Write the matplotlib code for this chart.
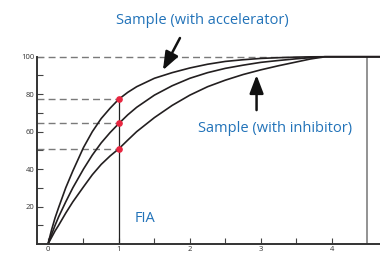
import matplotlib
matplotlib.use("Agg")
import matplotlib.pyplot as plt

# values
t = [0, 0.05, 0.1, 0.15, 0.25, 0.35, 0.5, 0.625, 0.75, 0.875, 1.0, 1.125, 1.25,
     1.5, 1.75, 2.0, 2.25, 2.5, 2.75, 3.0, 3.25, 3.5, 3.7, 3.9, 4.68]
accel = [0, 7.5, 14, 19.5, 30, 39, 51.5, 60, 67, 72.5, 77.4, 81, 84,
         88.5, 91.5, 94, 96, 97.5, 98.4, 99.1, 99.5, 99.8, 99.95, 100, 100]
control = [0, 5, 10, 14.5, 22.5, 30, 40, 47.5, 54, 59.5, 64.4, 69, 73,
           79.5, 84.5, 88.5, 91.5, 93.8, 95.5, 97, 98, 98.9, 99.5, 100, 100]
inhib = [0, 3.5, 7, 10, 16.5, 22.5, 30.5, 37, 42.5, 47, 50.9, 55.5, 60,
         67.5, 74, 79.5, 84, 87.5, 90.5, 93, 95.2, 97.2, 98.8, 100, 100]

fia_x = 1.0
fia_vals = [77.4, 64.4, 50.9]
end_x = 4.49

blue = "#2273b9"
red = "#e8253f"
dash_col = "#7a7a7a"

plt.rcParams["font.family"] = ["Open Sans", "DejaVu Sans"]

W, H = 380, 254
fig = plt.figure(figsize=(3.8, 2.54), dpi=100)
ax = fig.add_axes([37 / W, 10 / H, 343 / W, 244 / H])
ax.set_xlim(-0.155, 4.68)
ax.set_ylim(0, 130.3)

for s in ["top", "right"]:
    ax.spines[s].set_visible(False)
ax.spines["left"].set_bounds(0, 100)
for s in ["left", "bottom"]:
    ax.spines[s].set_color("#333333")
    ax.spines[s].set_linewidth(1.4)

# dashed guides
ax.plot([-0.155, 3.9], [100, 100], ls=(0, (5, 3)), color=dash_col, lw=1.0)
for v in fia_vals:
    ax.plot([-0.155, fia_x], [v, v], ls=(0, (5, 3)), color=dash_col, lw=1.0)

ax.plot([fia_x, fia_x], [0, fia_vals[0]], color="#222222", lw=0.9)
ax.plot([end_x, end_x], [0, 100], color="#8a8a8a", lw=1.3)

for ys in (accel, control, inhib):
    ax.plot(t, ys, color="#231f20", lw=1.2, solid_capstyle="round",
            solid_joinstyle="round")

ax.plot([fia_x] * 3, fia_vals, "o", color=red, ms=3.8, zorder=5)

ax.set_yticks([20, 40, 60, 80, 100])
ax.set_yticks([10, 30, 50, 70, 90], minor=True)
ax.set_xticks([0, 1, 2, 3, 4])
ax.set_xticks([0.5, 1.5, 2.5, 3.5], minor=True)
ax.tick_params(which="both", direction="in", length=4, width=0.8, color="#444444",
               labelsize=5.5, labelcolor="#333333")
ax.tick_params(axis="x", pad=1.5)
ax.tick_params(axis="y", pad=2)

fig.text(202 / W, 1 - 20 / H, "Sample (with accelerator)", color=blue,
         fontsize=10.5, ha="center", va="center")
fig.text(275 / W, 1 - 128 / H, "Sample (with inhibitor)", color=blue,
         fontsize=10.5, ha="center", va="center")
fig.text(135 / W, 1 - 218 / H, "FIA", color=blue, fontsize=10.5,
         ha="left", va="center")

arrow = dict(arrowstyle="-|>,head_length=1.1,head_width=0.42",
             color="#111111", lw=1.8, shrinkA=0, shrinkB=0)
ax.annotate("", xy=(1.62, 92.8), xytext=(1.86, 110), arrowprops=arrow)
ax.annotate("", xy=(2.94, 90.2), xytext=(2.94, 71.5), arrowprops=arrow)

fig.savefig("out.png", dpi=100)
